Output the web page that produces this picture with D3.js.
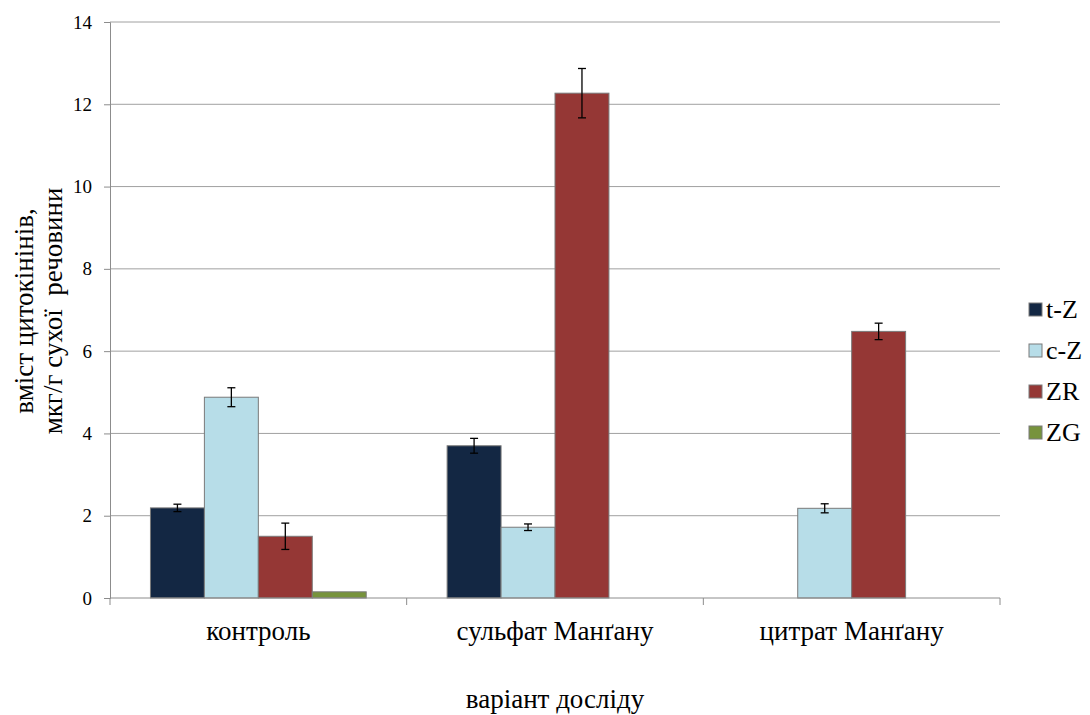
<!DOCTYPE html>
<html>
<head>
<meta charset="utf-8">
<script src="https://cdn.jsdelivr.net/npm/d3@7"></script>
<style>
  body { margin: 0; background: #fff; }
</style>
</head>
<body>
<svg width="1090" height="715"></svg>
<script>
// data
const categories = ["контроль", "сульфат Манґану", "цитрат Манґану"];
const series = ["t-Z", "c-Z", "ZR", "ZG"];
const tZ = [2.19, 3.70, 0];
const cZ = [4.88, 1.72, 2.18];
const ZR = [1.50, 12.27, 6.48];
const ZG = [0.15, 0, 0];
const tZerr = [0.09, 0.18, 0];
const cZerr = [0.23, 0.08, 0.11];
const ZRerr = [0.32, 0.60, 0.20];
const ZGerr = [0, 0, 0];
const yTicks = [0, 2, 4, 6, 8, 10, 12, 14];

const values = [tZ, cZ, ZR, ZG];
const errors = [tZerr, cZerr, ZRerr, ZGerr];
const colors = ["#132743", "#b7dde8", "#953735", "#77933c"];
const font = "Liberation Serif";

// chart dimensions
const margin = { top: 22, right: 90, bottom: 117, left: 110 };
const width = 1090 - margin.left - margin.right;
const height = 715 - margin.top - margin.bottom;

const svg = d3.select("svg")
  .append("g")
  .attr("transform", "translate(" + margin.left + "," + margin.top + ")");

// scales
const x0 = d3.scaleBand()
  .domain(categories)
  .range([0, width])
  .paddingInner(0)
  .paddingOuter(0);
const x1 = d3.scaleBand()
  .domain(series)
  .range([0, x0.bandwidth()])
  .paddingInner(0)
  .paddingOuter(0.75);
const y = d3.scaleLinear()
  .domain([0, 14])
  .range([height, 0]);

// grid
svg.append("g")
  .selectAll("line")
  .data(yTicks.filter(d => d > 0))
  .enter()
  .append("line")
  .attr("x1", 0)
  .attr("x2", width)
  .attr("y1", d => y(d))
  .attr("y2", d => y(d))
  .attr("stroke", "#a0a0a0")
  .attr("stroke-width", 1);

// y axis
const yAxis = d3.axisLeft(y)
  .tickValues(yTicks)
  .tickSize(6)
  .tickPadding(12)
  .tickFormat(d3.format("d"));
const gy = svg.append("g").call(yAxis)
  .attr("font-family", font)
  .attr("font-size", 19);
gy.selectAll("path, line").attr("stroke", "#8c8c8c");
gy.selectAll("text").attr("fill", "#000");

// bars
const group = svg.selectAll(".cat")
  .data(categories)
  .enter()
  .append("g")
  .attr("transform", d => "translate(" + x0(d) + ",0)");

series.forEach((s, si) => {
  group.filter((d, i) => values[si][i] > 0).append("rect")
    .attr("x", x1(s))
    .attr("width", x1.bandwidth())
    .attr("y", d => y(values[si][categories.indexOf(d)]))
    .attr("height", d => height - y(values[si][categories.indexOf(d)]))
    .attr("fill", colors[si])
    .attr("stroke", "#7a7a7a")
    .attr("stroke-width", 1);

  // error bars
  const eb = group.filter((d, i) => errors[si][i] > 0).append("g")
    .attr("stroke", "#000")
    .attr("stroke-width", 1.3);
  const cx = x1(s) + x1.bandwidth() / 2;
  eb.append("line")
    .attr("x1", cx).attr("x2", cx)
    .attr("y1", d => { const i = categories.indexOf(d); return y(values[si][i] + errors[si][i]); })
    .attr("y2", d => { const i = categories.indexOf(d); return y(values[si][i] - errors[si][i]); });
  [1, -1].forEach(sign => {
    eb.append("line")
      .attr("x1", cx - 4).attr("x2", cx + 4)
      .attr("y1", d => { const i = categories.indexOf(d); return y(values[si][i] + sign * errors[si][i]); })
      .attr("y2", d => { const i = categories.indexOf(d); return y(values[si][i] + sign * errors[si][i]); });
  });
});

// x axis
svg.append("line")
  .attr("x1", 0).attr("x2", width)
  .attr("y1", height).attr("y2", height)
  .attr("stroke", "#8c8c8c");
svg.append("g")
  .selectAll("line")
  .data(d3.range(categories.length + 1))
  .enter()
  .append("line")
  .attr("x1", d => d * x0.bandwidth())
  .attr("x2", d => d * x0.bandwidth())
  .attr("y1", height)
  .attr("y2", height + 7)
  .attr("stroke", "#8c8c8c");
svg.append("g")
  .selectAll("text")
  .data(categories)
  .enter()
  .append("text")
  .attr("x", d => x0(d) + x0.bandwidth() / 2)
  .attr("y", height + 42)
  .attr("text-anchor", "middle")
  .attr("font-family", font)
  .attr("font-size", 27)
  .text(d => d);

// axis titles
svg.append("text")
  .attr("x", width / 2)
  .attr("y", height + 110)
  .attr("text-anchor", "middle")
  .attr("font-family", font)
  .attr("font-size", 27)
  .text("варіант досліду");

const yt = svg.append("text")
  .attr("transform", "translate(" + (-77) + "," + (289) + ") rotate(-90)")
  .attr("text-anchor", "middle")
  .attr("font-family", font)
  .attr("font-size", 27)
  .style("white-space", "pre");
yt.append("tspan").attr("x", 0).attr("dy", 0).text("вміст цитокінінів,");
yt.append("tspan").attr("x", 0).attr("dy", 29).style("white-space", "pre").text("мкг/г сухої  речовини");

// legend
const legend = d3.select("svg").append("g")
  .attr("transform", "translate(1029,303)");
series.forEach((s, i) => {
  const row = legend.append("g").attr("transform", "translate(0," + i * 41 + ")");
  row.append("rect")
    .attr("width", 13).attr("height", 13)
    .attr("fill", colors[i])
    .attr("stroke", "#7a7a7a");
  row.append("text")
    .attr("x", 17).attr("y", 15)
    .attr("font-family", font)
    .attr("font-size", 26)
    .text(s);
});
</script>
</body>
</html>
